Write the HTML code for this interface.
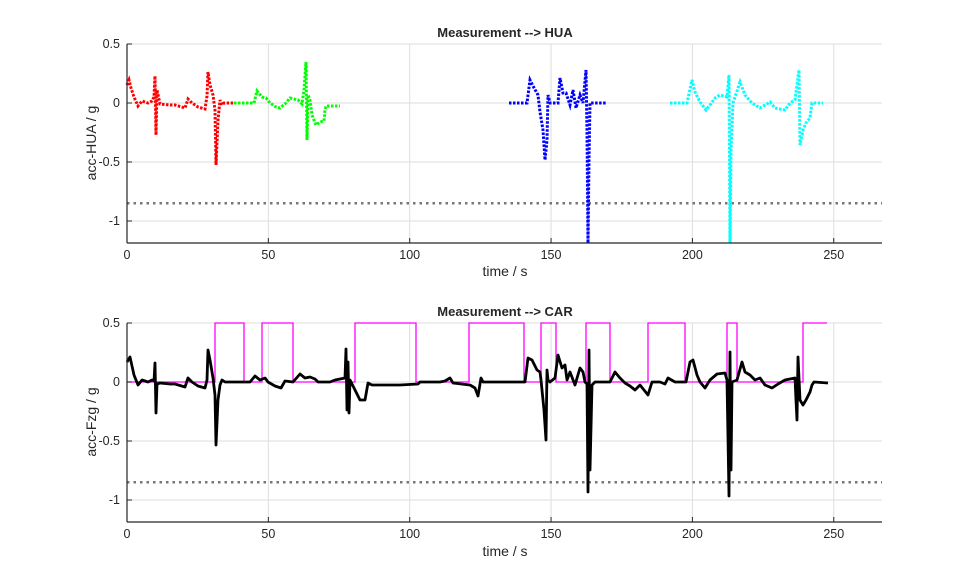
<!DOCTYPE html>
<html><head><meta charset="utf-8"><style>
body{margin:0;background:#fff;}
svg{display:block;font-family:"Liberation Sans",Arial,sans-serif;}
</style></head><body>
<svg width="977" height="588" viewBox="0 0 977 588" xmlns="http://www.w3.org/2000/svg">
<g id="g1" stroke="#dedede" stroke-width="1" fill="none"></g>
<g id="plots"></g>
<g font-size="12.5" fill="#262626">
<text x="505" y="37" text-anchor="middle" font-weight="bold" font-size="13">Measurement --&gt; HUA</text>
<text x="505" y="316" text-anchor="middle" font-weight="bold" font-size="13">Measurement --&gt; CAR</text>
<text x="505" y="276" text-anchor="middle" font-size="14">time / s</text>
<text x="505" y="556" text-anchor="middle" font-size="14">time / s</text>
<text transform="translate(96,143) rotate(-90)" text-anchor="middle" font-size="14">acc-HUA / g</text>
<text transform="translate(96,422) rotate(-90)" text-anchor="middle" font-size="14">acc-Fzg / g</text>
</g>
<g id="ticks" font-size="12.5" fill="#262626"></g>
</svg>
<script>
var NS="http://www.w3.org/2000/svg";
function el(tag,attrs,parent,txt){var e=document.createElementNS(NS,tag);for(var k in attrs)e.setAttribute(k,attrs[k]);if(txt!==undefined)e.textContent=txt;(parent||document.querySelector('svg')).appendChild(e);return e;}
var g1=document.getElementById('g1'),tk=document.getElementById('ticks'),pl=document.getElementById('plots');
function X(t){return 127+t*2.827;}
[[103,44,243],[382,323,522]].forEach(function(a){
 var z=a[0],top=a[1],bot=a[2];
 [50,100,150,200,250].forEach(function(t){el('line',{x1:X(t),x2:X(t),y1:top,y2:bot},g1);});
 [0.5,0,-0.5,-1].forEach(function(v){var y=z-118*v;el('line',{x1:127,x2:882,y1:y,y2:y},g1);});
 el('line',{x1:127,x2:127,y1:top,y2:bot,stroke:'#262626','stroke-width':1.2},tk);
 el('line',{x1:127,x2:882,y1:bot,y2:bot,stroke:'#262626','stroke-width':1.2},tk);
 [0,50,100,150,200,250].forEach(function(t){el('line',{x1:X(t),x2:X(t),y1:bot,y2:bot-5,stroke:'#262626'},tk);el('text',{x:X(t),y:bot+16,'text-anchor':'middle'},tk,String(t));});
 [[0.5,'0.5'],[0,'0'],[-0.5,'-0.5'],[-1,'-1']].forEach(function(p){var y=z-118*p[0];el('line',{x1:127,x2:132,y1:y,y2:y,stroke:'#262626'},tk);el('text',{x:120,y:y+4,'text-anchor':'end'},tk,p[1]);});
 var dy=z-118*(-0.85);
 el('line',{x1:127,x2:882,y1:dy,y2:dy,stroke:'#777','stroke-width':2.5,'stroke-dasharray':'2.5 4'},pl);
});
function pts(a,off){var s=[];for(var i=0;i<a.length;i+=2)s.push(a[i]+','+(a[i+1]+off));return s.join(' ');}
var red=[127,85,129,80,131,88,134,97,138,106,142,101,148,103,152,101,154,97,155,76,156,135,157,90,160,104,170,105,175,105,185,108,188,99,192,103,198,107,205,109,207,96,208,72,210,85,213,95,215,110,216,165,218,120,220,100,222,105,224,103,234,103];
var green=[234,103,254,103,257,91,262,97,266,98,270,103,276,107,280,108,286,103,290,98,298,100,302,104,304,90,306,62,307,140,308,95,310,100,312,115,316,125,320,122,324,121,325,110,326,106,340,106];
var blue=[509,103,527,103,530,80,533,86,538,95,540,112,543,130,545,160,547,140,548,95,550,103,558,103,560,78,563,93,566,93,570,105,573,90,576,108,580,95,583,103,586,70,587,130,588,243,589,160,590,103,606,103];
var cyan=[670,103,687,103,692,80,695,92,700,102,706,110,710,105,715,98,720,95,727,97,729,75,730,243,731,150,733,103,740,82,745,95,752,103,760,108,770,102,775,108,785,110,790,103,795,100,799,70,800,145,803,130,806,123,810,118,812,103,823,103];
[[red,'#f00'],[green,'#0f0'],[blue,'#00f'],[cyan,'#0ff']].forEach(function(s){
 el('polyline',{points:pts(s[0],0),fill:'none',stroke:s[1],'stroke-width':3,'stroke-dasharray':'2.5 1.5'},pl);
});
var hi=[[215,244],[262,293],[355,416],[469,524],[541,556],[586,610],[648,685],[727,737]];
var m=['127,382'];hi.forEach(function(p){m.push(p[0]+',382',p[0]+',323',p[1]+',323',p[1]+',382');});
m.push('803,382','803,323','827,323');
el('polyline',{points:m.join(' '),fill:'none',stroke:'#f0f','stroke-width':1.3},pl);
var blk=[127,362,130,357,134,375,138,385,142,380,148,382,152,380,154,381,155,363,156,413,157,384,160,383,170,384,175,384,185,387,188,378,192,382,198,386,205,388,207,380,208,350,210,360,213,378,215,395,216,445,218,400,220,385,222,380,225,382,250,382,255,376,260,380,265,378,268,382,275,386,281,388,285,381,293,382,300,374,305,378,310,377,315,379,318,382,330,382,335,380,340,379,345,378,346,349,347,410,348,362,349,413,350,380,355,390,360,400,365,400,368,383,372,385,400,385,418,384,420,382,440,382,445,381,450,378,453,383,470,385,475,388,478,396,481,378,483,382,520,382,525,382,528,358,532,360,537,370,540,372,541,380,544,410,546,440,547,370,548,380,550,382,555,378,558,355,562,368,565,365,567,380,570,372,575,385,580,368,583,372,585,382,587,384,588,492,589,350,590,470,592,385,595,382,610,382,615,372,620,378,625,383,630,386,635,390,640,385,648,395,652,382,660,382,665,384,668,378,675,382,686,382,690,362,693,360,697,375,700,382,705,388,710,380,717,374,725,373,727,380,729,496,730,352,731,470,732,382,737,380,742,362,745,372,750,375,755,380,760,378,765,385,772,388,778,384,785,380,795,378,796,400,797,420,798,357,800,400,803,405,806,400,810,392,812,385,814,382,828,383];
el('polyline',{points:pts(blk,0),fill:'none',stroke:'#000','stroke-width':2.8,'stroke-linejoin':'round'},pl);
</script>
</body></html>
